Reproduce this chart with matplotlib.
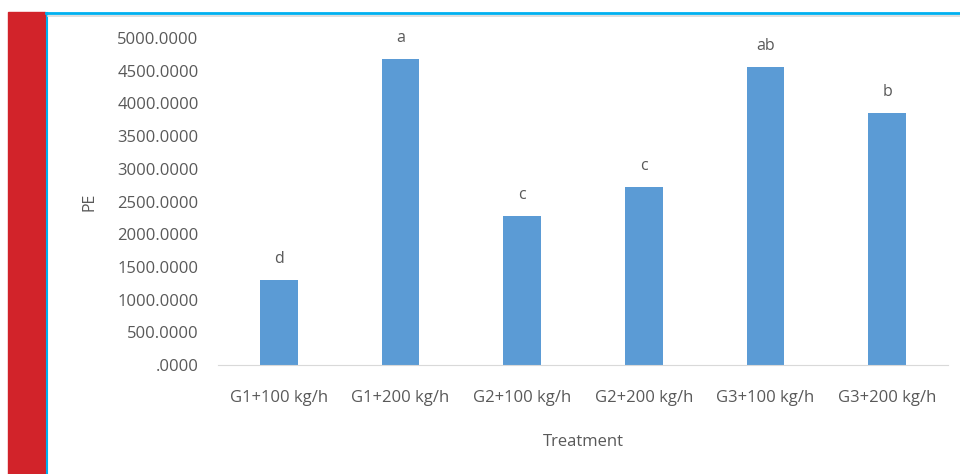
import matplotlib.pyplot as plt
import matplotlib.patches as patches
from matplotlib.lines import Line2D

treatments = ['G1+100 kg/h', 'G1+200 kg/h', 'G2+100 kg/h',
              'G2+200 kg/h', 'G3+100 kg/h', 'G3+200 kg/h']
pe_values = [1300, 4680, 2280, 2720, 4560, 3850]
letters = ['d', 'a', 'c', 'c', 'ab', 'b']
y_ticks = [0, 500, 1000, 1500, 2000, 2500, 3000, 3500, 4000, 4500, 5000]

plt.rcParams['font.family'] = ['Open Sans', 'DejaVu Sans']
txt = '#595959'

fig = plt.figure(figsize=(9.6, 4.74), dpi=100)
W, H = 960, 474

# page decorations: red strip, cyan frame, grey inner line
fig.patches.append(patches.Rectangle((8 / W, 0), 37 / W, (H - 12) / H,
                                     transform=fig.transFigure, color='#d2232a', zorder=0))
fig.lines.append(Line2D([46 / W, 1], [1 - 12.5 / H, 1 - 12.5 / H], transform=fig.transFigure,
                        color='#00b0f0', lw=2))
fig.lines.append(Line2D([46.5 / W, 46.5 / W], [0, 1 - 12.5 / H], transform=fig.transFigure,
                        color='#00b0f0', lw=1.5))
fig.lines.append(Line2D([48 / W, 1], [1 - 15.5 / H, 1 - 15.5 / H], transform=fig.transFigure,
                        color='#d9d9d9', lw=1.2))

ax = fig.add_axes([218 / W, (H - 365) / H, (948 - 218) / W, (365 - 38) / H])
x = list(range(len(treatments)))
bars = ax.bar(x, pe_values, width=0.31, color='#5b9bd5')
for xi, v, l in zip(x, pe_values, letters):
    ax.text(xi, v + 200, l, ha='center', va='bottom', fontsize=11.5, color=txt)

ax.set_xlim(-0.5, len(treatments) - 0.5)
ax.set_ylim(0, 5000)
ax.set_yticks(y_ticks)
ax.set_yticklabels(['.0000'] + ['%.4f' % t for t in y_ticks[1:]])
ax.set_xticks(x)
ax.set_xticklabels(treatments)
ax.tick_params(axis='both', length=0, labelsize=12, colors=txt)
ax.tick_params(axis='y', pad=14)
ax.tick_params(axis='x', pad=18)
for s in ['top', 'right', 'left']:
    ax.spines[s].set_visible(False)
ax.spines['bottom'].set_color('#d9d9d9')
ax.set_ylabel('PE', fontsize=11.5, color=txt, labelpad=14)
ax.set_xlabel('Treatment', fontsize=12, color=txt, labelpad=20)

fig.savefig('out.png', dpi=100)
